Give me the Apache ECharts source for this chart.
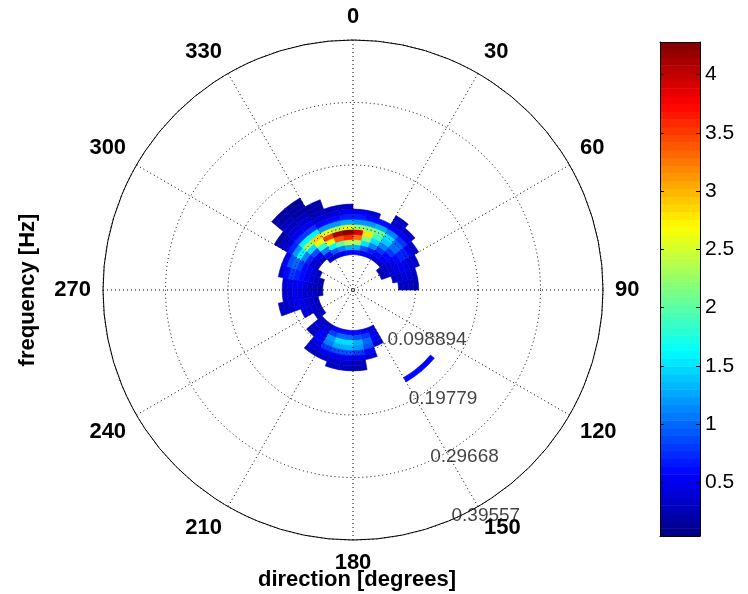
<!DOCTYPE html>
<html>
<head>
<meta charset="utf-8">
<script src="https://cdn.jsdelivr.net/npm/echarts@6/dist/echarts.min.js"></script>
<style>
html,body{margin:0;padding:0;background:#fff;}
#chart{width:748px;height:594px;}
</style>
</head>
<body>
<div id="chart"></div>
<script>
// ---- data ----
// direction bin centres (degrees, compass, clockwise from north)
const directions = [5,15,25,35,45,55,65,75,85,95,105,115,125,135,145,155,165,175,
                    185,195,205,215,225,235,245,255,265,275,285,295,305,315,325,335,345,355];
// frequency bin centres (Hz)
const frequencies = [0.052,0.060,0.068,0.076,0.084,0.092,0.100,0.108,0.116,0.124,0.132,0.140,0.148,0.156,0.164,0.172];
const dirWidth = 10;
const freqWidth = 0.008;
// spectral energy: one row per direction bin, one column per frequency bin (0 = no data)
const energy = [
  [0,0.6,1.3,2.3,3.3,3.9,2.3,1.2,0.7,0.5,0,0,0,0,0,0],        // 5
  [0,0.5,0.9,1.5,2.2,2.8,2.2,1.2,0.6,0.4,0,0,0,0,0,0],        // 15
  [0,0.5,0.7,1.1,1.5,1.9,2.1,1.3,0.6,0,0,0,0,0,0,0],          // 25
  [0,0.4,0.6,0.8,1.1,1.4,1.5,1.1,0.5,0.35,0.3,0,0,0,0,0],     // 35
  [0,0.35,0.5,0.6,0.8,1.0,1.0,0.8,0.5,0.35,0,0,0,0,0,0],      // 45
  [0.3,0.35,0.4,0.5,0.6,0.7,0.7,0.5,0.35,0,0,0,0,0,0,0],      // 55
  [0.3,0.35,0.4,0.45,0.5,0.5,0.45,0.35,0,0,0,0,0,0,0,0],      // 65
  [0,0,0.3,0.35,0.4,0.4,0.35,0,0,0,0,0,0,0,0,0],              // 75
  [0,0,0,0.3,0.3,0.3,0.25,0,0,0,0,0,0,0,0,0],                 // 85
  [0,0,0,0,0,0,0,0,0,0,0,0,0,0,0,0],                          // 95
  [0,0,0,0,0,0,0,0,0,0,0,0,0,0,0,0],                          // 105
  [0,0,0,0,0,0,0,0,0,0,0,0,0,0,0,0],                          // 115
  [0,0,0,0,0,0,0,0,0,0,0,0,0,0,0,0],                          // 125
  [0,0,0,0,0,0,0,0,0,0,0,0,0,0,0.55,0],                       // 135
  [0,0,0,0,0,0,0,0,0,0,0,0,0,0,0.6,0],                        // 145
  [0,0,0.4,0.5,0.5,0.4,0,0,0,0,0,0,0,0,0,0],                  // 155
  [0,0,0.5,0.8,1.0,0.9,0.6,0.4,0,0,0,0,0,0,0,0],              // 165
  [0,0,0.6,0.9,1.3,1.2,0.8,0.45,0.3,0.25,0,0,0,0,0,0],        // 175
  [0,0,0.6,1.0,1.5,1.3,0.9,0.5,0.35,0.3,0,0,0,0,0,0],         // 185
  [0,0,0.6,1.0,1.5,1.3,0.9,0.5,0.35,0.3,0,0,0,0,0,0],         // 195
  [0,0,0.5,0.8,1.2,1.1,0.8,0.5,0.35,0,0,0,0,0,0,0],           // 205
  [0,0,0.3,0.45,0.55,0.55,0.5,0.4,0.3,0,0,0,0,0,0,0],         // 215
  [0,0,0.3,0.35,0.35,0.3,0,0,0,0,0,0,0,0,0,0],                // 225
  [0,0.3,0.3,0,0,0,0,0,0,0,0,0,0,0,0,0],                      // 235
  [0,0.3,0.35,0.4,0.4,0,0,0,0,0,0,0,0,0,0,0],                 // 245
  [0,0.3,0.35,0.4,0.45,0.45,0.4,0.35,0.3,0,0,0,0,0,0,0],      // 255
  [0.2,0.3,0.35,0.4,0.45,0.5,0.45,0.35,0,0,0,0,0,0,0,0],      // 265
  [0.2,0.3,0.3,0.4,0.5,0.5,0.5,0.4,0,0,0,0,0,0,0,0],          // 275
  [0.2,0.3,0.4,0.5,0.6,0.7,0.8,0.6,0.4,0,0,0,0,0,0,0],        // 285
  [0,0.3,0.4,0.5,0.6,0.8,1.0,0.9,0.5,0,0,0,0,0,0,0],          // 295
  [0,0,0.3,0.4,0.7,1.1,1.6,1.2,0.7,0.4,0.3,0.2,0,0,0,0],      // 305
  [0,0,0.3,0.5,0.9,1.5,2.3,1.6,0.8,0.5,0.4,0.3,0.3,0.2,0.2,0],// 315
  [0,0.3,0.6,1.1,1.8,2.6,2.9,1.6,0.8,0.5,0.4,0.3,0.2,0.2,0.15,0], // 325
  [0,0.4,0.9,1.6,2.6,3.5,2.6,1.2,0.6,0.4,0.3,0.2,0.2,0,0,0],  // 335
  [0,0.5,1.1,2.0,3.4,4.1,2.4,1.2,0.6,0.4,0.3,0,0,0,0,0],      // 345
  [0,0.6,1.3,2.4,3.6,4.25,2.6,1.3,0.7,0.5,0.3,0,0,0,0,0]      // 355
];
// axis ticks / labels
const radialMax = 0.39557;
const radialStep = 0.098894;
const radialTicks = [0.098894, 0.19779, 0.29668, 0.39557];
const radialTickLabels = ['0.098894', '0.19779', '0.29668', '0.39557'];
const angleStep = 30;
const colorMin = 0.04;
const colorMax = 4.28;
const colorbarTicks = [0.5, 1, 1.5, 2, 2.5, 3, 3.5, 4];
const colorbarLevels = 64;
const jetColors = ['#000080','#0000ff','#0080ff','#00ffff','#80ff80','#ffff00','#ff8000','#ff0000','#800000'];
const radialLabelAngle = 160;

// ---- build series data ----
const cellData = [];
directions.forEach((d, di) => {
  frequencies.forEach((f, fi) => {
    const v = energy[di][fi];
    if (v > 0) cellData.push([f, d, v]);
  });
});
const cbData = [];
for (let k = 0; k < colorbarLevels; k++) {
  const lo = colorMin + (colorMax - colorMin) * k / colorbarLevels;
  const hi = colorMin + (colorMax - colorMin) * (k + 1) / colorbarLevels;
  cbData.push([lo, hi, (lo + hi) / 2]);
}

function renderCell(params, api) {
  const f = api.value(0), d = api.value(1);
  const cs = params.coordSys;
  const cx = cs.cx, cy = cs.cy;
  const pA = api.coord([f - freqWidth / 2, d - dirWidth / 2]);
  const pB = api.coord([f - freqWidth / 2, d + dirWidth / 2]);
  const pC = api.coord([f + freqWidth / 2, d - dirWidth / 2]);
  const r0 = Math.hypot(pA[0] - cx, pA[1] - cy);
  const r = Math.hypot(pC[0] - cx, pC[1] - cy);
  const a0 = Math.atan2(pA[1] - cy, pA[0] - cx);
  let a1 = Math.atan2(pB[1] - cy, pB[0] - cx);
  if (a1 <= a0) a1 += Math.PI * 2;
  const c = api.visual('color');
  return {
    type: 'sector',
    shape: { cx: cx, cy: cy, r0: r0, r: r, startAngle: a0, endAngle: a1, clockwise: true },
    style: { fill: c, stroke: c, lineWidth: 0.6 }
  };
}

function renderBand(params, api) {
  const lo = api.value(0), hi = api.value(1);
  const cs = params.coordSys;
  const pLo = api.coord([0.5, lo]);
  const pHi = api.coord([0.5, hi]);
  const c = api.visual('color');
  return {
    type: 'rect',
    shape: { x: cs.x, y: pHi[1], width: cs.width, height: pLo[1] - pHi[1] + 0.5 },
    style: { fill: c, stroke: null }
  };
}

const FONT = '"Liberation Sans", Arial, Helvetica, sans-serif';
const chart = echarts.init(document.getElementById('chart'), null, { renderer: 'canvas' });
const option = {
  backgroundColor: '#ffffff',
  animation: false,
  textStyle: { fontFamily: FONT },
  polar: { center: [353, 290], radius: 250 },
  angleAxis: {
    type: 'value', min: 0, max: 360, interval: angleStep,
    startAngle: 90, clockwise: true, z: 10,
    axisLine: { show: true, lineStyle: { color: '#000', width: 1 } },
    axisTick: { show: false },
    axisLabel: {
      show: true, margin: 12, color: '#000', fontWeight: 'bold', fontSize: 22, fontFamily: FONT,
      formatter: v => (v === 360 ? '' : String(v))
    },
    splitLine: { show: true, lineStyle: { color: '#000', width: 1, type: [1, 3] } }
  },
  radiusAxis: {
    type: 'value', min: 0, max: radialMax, interval: radialStep, z: 10,
    axisLine: { show: false }, axisTick: { show: false }, axisLabel: { show: false },
    splitLine: { show: true, lineStyle: { color: '#000', width: 1, type: [1, 3] } }
  },
  grid: { left: 660, top: 42, width: 40, height: 494, show: false },
  xAxis: [
    { gridIndex: 0, type: 'value', min: 0, max: 1, position: 'bottom', z: 10,
      axisLine: { show: true, onZero: false, lineStyle: { color: '#000' } },
      axisTick: { show: false }, axisLabel: { show: false }, splitLine: { show: false } },
    { gridIndex: 0, type: 'value', min: 0, max: 1, position: 'top', z: 10,
      axisLine: { show: true, onZero: false, lineStyle: { color: '#000' } },
      axisTick: { show: false }, axisLabel: { show: false }, splitLine: { show: false } }
  ],
  yAxis: [
    { gridIndex: 0, type: 'value', min: colorMin, max: colorMax, position: 'right', z: 10,
      axisLine: { show: true, onZero: false, lineStyle: { color: '#000' } },
      axisTick: { show: true, inside: true, length: 4, customValues: colorbarTicks, lineStyle: { color: '#000' } },
      axisLabel: { show: true, customValues: colorbarTicks, margin: 5, color: '#000', fontSize: 21, fontFamily: FONT },
      splitLine: { show: false } },
    { gridIndex: 0, type: 'value', min: colorMin, max: colorMax, position: 'left', z: 10,
      axisLine: { show: true, onZero: false, lineStyle: { color: '#000' } },
      axisTick: { show: true, inside: true, length: 4, customValues: colorbarTicks, lineStyle: { color: '#000' } },
      axisLabel: { show: false }, splitLine: { show: false } }
  ],
  visualMap: {
    type: 'continuous', show: false, min: colorMin, max: colorMax, dimension: 2,
    seriesIndex: [0, 1], inRange: { color: jetColors }
  },
  series: [
    {
      type: 'custom', coordinateSystem: 'polar', z: 2,
      dimensions: ['freq', 'dir', 'value'],
      encode: { radius: 0, angle: 1 },
      renderItem: renderCell,
      data: cellData
    },
    {
      type: 'custom', coordinateSystem: 'cartesian2d', xAxisIndex: 0, yAxisIndex: 0, z: 2,
      dimensions: ['lo', 'hi', 'mid'],
      encode: { y: [0, 1] },
      renderItem: renderBand,
      data: cbData
    },
    {
      type: 'scatter', coordinateSystem: 'polar', z: 20, symbolSize: 0,
      data: radialTicks.map(r => [r, radialLabelAngle]),
      label: {
        show: true, position: 'right', distance: 0, offset: [13, -9],
        formatter: p => radialTickLabels[p.dataIndex],
        color: '#111', fontSize: 19, fontFamily: FONT
      },
      silent: true
    }
  ],
  graphic: [
    { type: 'text', x: 357, y: 580, z: 20,
      style: { text: 'direction [degrees]', font: 'bold 22px ' + FONT, fill: '#000', textAlign: 'center', textVerticalAlign: 'middle' } },
    { type: 'text', x: 28, y: 290, rotation: Math.PI / 2, z: 20,
      style: { text: 'frequency [Hz]', font: 'bold 22px ' + FONT, fill: '#000', textAlign: 'center', textVerticalAlign: 'middle' } }
  ]
};
chart.setOption(option);
</script>
</body>
</html>
